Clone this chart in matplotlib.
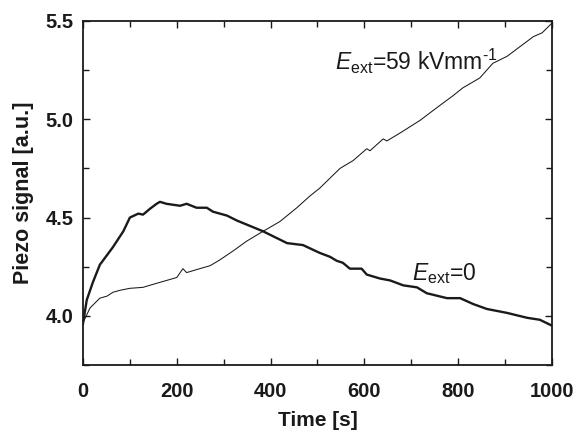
import matplotlib
matplotlib.use("Agg")
import matplotlib.pyplot as plt
from matplotlib.ticker import MultipleLocator

plt.rcParams["font.family"] = ["Liberation Sans", "DejaVu Sans"]
plt.rcParams["mathtext.fontset"] = "custom"
plt.rcParams["mathtext.rm"] = "Liberation Sans"
plt.rcParams["mathtext.it"] = "Liberation Sans:italic"

# thick curve, E_ext = 0
t_zero = [0, 8, 21, 36, 64, 86, 100, 118, 128, 143, 157, 164, 178, 207, 221,
          242, 264, 277, 292, 307, 328, 384, 435, 469, 505, 527, 541, 554, 569,
          594, 605, 633, 655, 683, 712, 733, 776, 804, 832, 861, 904, 947, 974,
          1000]
v_zero = [3.96, 4.08, 4.17, 4.26, 4.35, 4.43, 4.50, 4.52, 4.515, 4.545, 4.57,
          4.58, 4.57, 4.56, 4.57, 4.55, 4.55, 4.53, 4.52, 4.51, 4.485, 4.43, 4.37,
          4.36, 4.32, 4.30, 4.28, 4.27, 4.24, 4.24, 4.21, 4.19, 4.18, 4.155, 4.145,
          4.115, 4.09, 4.09, 4.06, 4.035, 4.015, 3.99, 3.98, 3.95]

# thin curve, E_ext = 59 kV/mm
t_field = [0, 15, 36, 51, 64, 79, 100, 128, 149, 178, 200, 213, 221, 249, 271,
           292, 320, 349, 384, 420, 456, 484, 505, 548, 576, 605, 612, 640, 648,
           676, 719, 755, 789, 810, 846, 874, 904, 932, 960, 979, 996, 1000]
v_field = [3.965, 4.04, 4.09, 4.10, 4.12, 4.13, 4.14, 4.145, 4.16, 4.18, 4.195,
           4.24, 4.22, 4.24, 4.255, 4.285, 4.33, 4.38, 4.43, 4.48, 4.55, 4.61,
           4.65, 4.75, 4.79, 4.85, 4.84, 4.90, 4.89, 4.93, 4.995, 5.06, 5.12,
           5.16, 5.21, 5.285, 5.32, 5.37, 5.42, 5.44, 5.48, 5.49]

fig = plt.figure(figsize=(5.77, 4.30), dpi=100)
ax = fig.add_axes([0.1438, 0.1512, 0.8129, 0.80])

ax.plot(t_field, v_field, color="#1a1a1a", lw=0.75)
ax.plot(t_zero, v_zero, color="#1a1a1a", lw=1.7)

ax.set_xlim(0, 1000)
ax.set_ylim(3.75, 5.5)
ax.xaxis.set_major_locator(MultipleLocator(200))
ax.xaxis.set_minor_locator(MultipleLocator(100))
ax.yaxis.set_minor_locator(MultipleLocator(0.25))
ax.set_yticks([4.0, 4.5, 5.0, 5.5])
ax.set_yticklabels(["4.0", "4.5", "5.0", "5.5"])
ax.tick_params(which="both", direction="in", top=True, right=True, width=1.0,
               colors="#1a1a1a")
ax.tick_params(which="major", length=5)
ax.tick_params(which="minor", length=4)
ax.tick_params(axis="x", pad=12.5)
ax.tick_params(axis="y", pad=7)
for lab in ax.get_xticklabels() + ax.get_yticklabels():
    lab.set_fontweight("bold")
    lab.set_fontsize(14.5)
    lab.set_color("#1a1a1a")
ax.get_xticklabels()[0].set_fontsize(17.5)
for sp in ax.spines.values():
    sp.set_linewidth(1.3)
    sp.set_color("#1a1a1a")

ax.set_xlabel("Time [s]", fontsize=15, fontweight="bold", color="#1a1a1a", labelpad=7)
ax.set_ylabel("Piezo signal [a.u.]", fontsize=15.5, fontweight="bold", color="#1a1a1a",
              labelpad=8)

ax.text(537, 5.25, r"$E_{\rm ext}$=59 kVmm$^{\text{-1}}$", fontsize=16.5,
        ha="left", va="baseline", color="#1a1a1a")
ax.text(701, 4.18, r"$E_{\rm ext}$=0", fontsize=16.5, ha="left", va="baseline",
        color="#1a1a1a")

fig.savefig("out.png", dpi=100)
